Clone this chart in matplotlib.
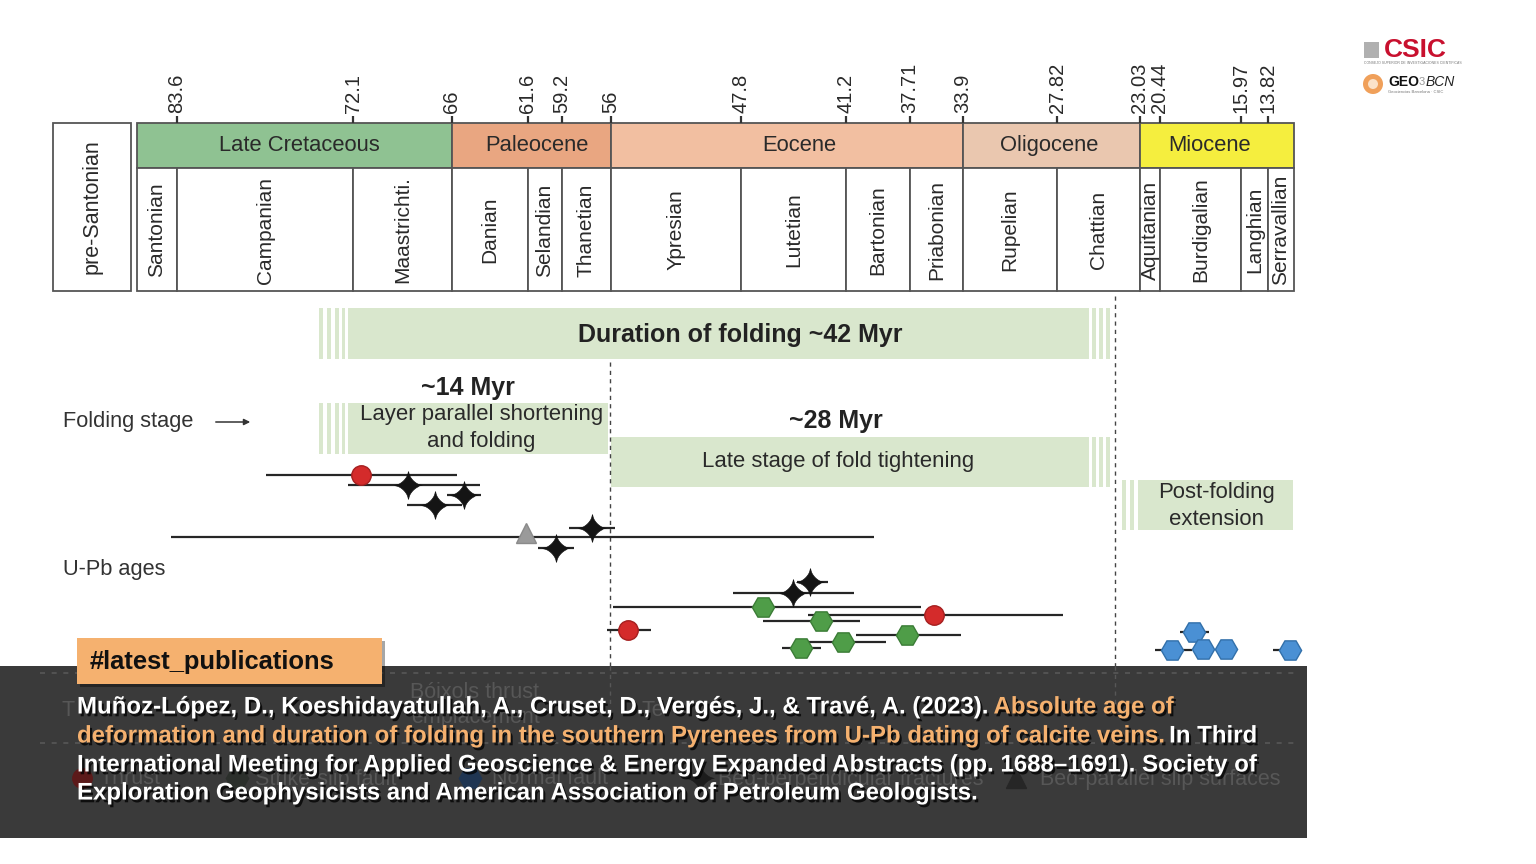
import numpy as np
import matplotlib
matplotlib.use('Agg')
import matplotlib.pyplot as plt
from matplotlib.patches import Rectangle, Circle
import matplotlib.patheffects as pe

plt.rcParams['font.family'] = ['Liberation Sans', 'DejaVu Sans']

# ---------------- data ----------------
stage_names = ['Santonian', 'Campanian', 'Maastrichti.', 'Danian', 'Selandian', 'Thanetian',
               'Ypresian', 'Lutetian', 'Bartonian', 'Priabonian', 'Rupelian', 'Chattian',
               'Aquitanian', 'Burdigalian', 'Langhian', 'Serravallian']
stage_bounds = [86.3, 83.6, 72.1, 66.0, 61.6, 59.2, 56.0, 47.8, 41.2, 37.71, 33.9, 27.82,
                23.03, 20.44, 15.97, 13.82, 11.63]
# drawn width of each stage on the (non-linear) time scale
stage_widths = [40, 176, 99, 76, 34, 49, 130, 105, 64, 53, 94, 83, 20, 81, 27, 26]

epoch_names = ['Late Cretaceous', 'Paleocene', 'Eocene', 'Oligocene', 'Miocene']
epoch_bounds = [86.3, 66.0, 56.0, 33.9, 23.03, 11.63]
epoch_label_ages = [75.6, 61.0, 44.15, 28.3, 17.7]
epoch_colors = ['#8fc292', '#e9a681', '#f2bfa1', '#eac7af', '#f5ee3e']

tick_ages = [83.6, 72.1, 66, 61.6, 59.2, 56, 47.8, 41.2, 37.71, 33.9, 27.82, 23.03, 20.44, 15.97, 13.82]
tick_labels = ['83.6', '72.1', '66', '61.6', '59.2', '56', '47.8', '41.2', '37.71', '33.9',
               '27.82', '23.03', '20.44', '15.97', '13.82']

# folding stages (ages, Ma)
duration_span = (72.4, 26.0)
lps_span = (72.4, 56.2)
late_span = (56.0, 26.0)
post_span = (23.15, 11.71)
stage_limits = [56.05, 24.5]

# U-Pb ages
upb_type = ['thrust', 'bedperp', 'bedperp', 'bedperp', 'bedpar', 'bedperp', 'bedperp',
            'bedperp', 'bedperp', 'strike', 'thrust', 'strike', 'thrust', 'strike', 'strike',
            'strike', 'normal', 'normal', 'normal', 'normal', 'normal']
upb_age = [71.6, 68.7, 65.3, 67.05, 61.7, 57.24, 59.62, 43.46, 44.53, 46.44, 35.98, 42.79,
           54.93, 37.89, 41.41, 44.03, 18.56, 19.78, 18.07, 16.8, 11.97]
upb_old = [77.8, 72.4, 66.3, 68.8, 84.0, 58.74, 60.9, 44.3, 48.32, 55.89, 43.59, 46.42,
           56.26, 40.65, 44.09, 45.24, 19.34, 21.09, 18.07, 16.8, 13.4]
upb_young = [65.7, 64.4, 64.3, 65.4, 39.7, 55.75, 58.42, 42.33, 40.76, 36.94, 27.47, 40.44,
             53.5, 34.07, 39.04, 42.79, 17.73, 18.69, 18.07, 16.8, 11.97]
upb_row = [475, 485, 495, 505, 537, 528, 548, 582, 593, 607, 615, 621, 630, 635, 642, 648,
           632, 650, 649, 649, 650]

legend_types = ['thrust', 'strike', 'normal', 'bedperp', 'bedpar']
legend_labels = ['Thrust', 'Strike-slip fault', 'Normal fault', 'Bed-perpendicular fractures',
                 'Bed-parallel slip surfaces']

# ---------------- non-linear time scale ----------------
_ages = np.array(stage_bounds, float)
_pos = np.concatenate([[137.0], 137.0 + np.cumsum(stage_widths)])
_slope = 15.8


def age_to_pos(a):
    a = np.asarray(a, float)
    out = np.interp(-a, -_ages, _pos)
    out = np.where(a > _ages[0], _pos[0] + (_ages[0] - a) * _slope, out)
    out = np.where(a < _ages[-1], _pos[-1] + (_ages[-1] - a) * _slope, out)
    return out


def pos_to_age(p):
    p = np.asarray(p, float)
    out = np.interp(p, _pos, _ages)
    out = np.where(p < _pos[0], _ages[0] - (p - _pos[0]) / _slope, out)
    out = np.where(p > _pos[-1], _ages[-1] - (p - _pos[-1]) / _slope, out)
    return out


# increasing forward function for matplotlib's FuncScale
def fwd(a):
    return -age_to_pos(a)


def inv(p):
    return pos_to_age(-np.asarray(p, float))


fig = plt.figure(figsize=(15.36, 8.64), dpi=100)
fig.patch.set_facecolor('white')
ax = fig.add_axes([0, 0, 1, 1])
ax.set_xscale('function', functions=(fwd, inv))
ax.set_xlim(float(pos_to_age(0)), float(pos_to_age(1536)))
ax.set_ylim(864, 0)
ax.axis('off')

ov = fig.add_axes([0, 0, 1, 1], zorder=5)
ov.set_xlim(0, 1536)
ov.set_ylim(864, 0)
ov.axis('off')
ov.patch.set_alpha(0)

TXT = '#2a2a2a'
EDGE = '#555555'


def mid_age(a0, a1):
    return float(pos_to_age((age_to_pos(a0) + age_to_pos(a1)) / 2))


# time scale boxes
for name, a0, a1, c, la in zip(epoch_names, epoch_bounds[:-1], epoch_bounds[1:], epoch_colors,
                               epoch_label_ages):
    ax.add_patch(Rectangle((a0, 123), a1 - a0, 45, fc=c, ec=EDGE, lw=1.3, zorder=2))
    ax.text(la, 145.5, name, ha='center', va='center', fontsize=15.8, color=TXT, zorder=3)

for name, a0, a1 in zip(stage_names, stage_bounds[:-1], stage_bounds[1:]):
    ax.add_patch(Rectangle((a0, 168), a1 - a0, 123, fc='white', ec=EDGE, lw=1.3, zorder=2))
    ax.text(mid_age(a0, a1), 230, name, ha='center', va='center', rotation=90, fontsize=15,
            color=TXT, zorder=3)

ax.vlines(tick_ages, 116, 123, color='#333333', lw=1.6, zorder=3)
for a, lab in zip(tick_ages, tick_labels):
    ax.text(a, 113, lab, rotation=90, ha='center', va='bottom', fontsize=14.5, color=TXT)

ov.add_patch(Rectangle((53, 123), 78, 168, fc='white', ec=EDGE, lw=1.3, zorder=2))
ov.text(92, 207, 'pre-Santonian', rotation=90, ha='center', va='center', fontsize=15.5, color=TXT)

# folding stage bars
BAR = '#d9e7cd'


def bar(span, y0, h):
    ax.add_patch(Rectangle((span[0], y0), span[1] - span[0], h, fc=BAR, ec='none', zorder=1))


def stripes(edge_age, offsets, y0, h):
    e = float(age_to_pos(edge_age))
    for o0, o1 in offsets:
        a0, a1 = float(pos_to_age(e + o0)), float(pos_to_age(e + o1))
        ax.add_patch(Rectangle((a0, y0), a1 - a0, h, fc=BAR, ec='none', zorder=1))


left_off = [(-29, -25), (-21, -17), (-13, -9), (-6, -3)]
right_off = [(3, 7), (10, 14), (17, 21)]
bar(duration_span, 308, 51)
stripes(duration_span[0], left_off, 308, 51)
stripes(duration_span[1], right_off, 308, 51)
bar(lps_span, 403, 51)
stripes(lps_span[0], left_off, 403, 51)
bar(late_span, 437, 50)
stripes(late_span[1], right_off, 437, 50)
bar(post_span, 480, 50)
stripes(post_span[0], [(-16, -12), (-8, -4)], 480, 50)

ax.vlines(stage_limits[0], 362, 666, color='#444444', lw=1.0, linestyles=(0, (3, 3)), zorder=2)
ax.vlines(stage_limits[1], 296, 666, color='#444444', lw=1.0, linestyles=(0, (3, 3)), zorder=2)

ax.text(47.85, 335, 'Duration of folding ~42 Myr', ha='center', va='center', fontsize=18,
        fontweight='bold', color='#222222', zorder=3)
ax.text(65.1, 388, '~14 Myr', ha='center', va='center', fontsize=18, fontweight='bold',
        color='#222222', zorder=3)
ax.text(64.3, 428, 'Layer parallel shortening\nand folding', ha='center', va='center',
        fontsize=15.9, color=TXT, linespacing=1.38, zorder=3)
ax.text(41.85, 421, '~28 Myr', ha='center', va='center', fontsize=18, fontweight='bold',
        color='#222222', zorder=3)
ax.text(41.7, 462, 'Late stage of fold tightening', ha='center', va='center', fontsize=15.9,
        color=TXT, zorder=3)
ax.text(17.3, 506, 'Post-folding\nextension', ha='center', va='center', fontsize=15.9,
        color=TXT, linespacing=1.38, zorder=3)

ov.text(63, 421, 'Folding stage', ha='left', va='center', fontsize=15.7, color='#333333')
ov.annotate('', xy=(253, 422), xytext=(213, 422),
            arrowprops=dict(arrowstyle='-|>', color='#333333', lw=1.1, mutation_scale=9))
ov.text(63, 569, 'U-Pb ages', ha='left', va='center', fontsize=15.7, color='#333333')

# markers: four-pointed concave star (superellipse)
_th = np.linspace(0, 2 * np.pi, 73)[:-1]
_p = 0.65
_rr = (np.abs(np.cos(_th)) ** _p + np.abs(np.sin(_th)) ** _p) ** (-1 / _p)
STAR = list(zip(_rr * np.cos(_th), _rr * np.sin(_th)))
mstyle = {
    'thrust': dict(marker='o', mfc='#d42b2b', mec='#a51f1f', ms=14, mew=1),
    'strike': dict(marker='H', mfc='#4f9d48', mec='#3b7c36', ms=16, mew=1),
    'normal': dict(marker='H', mfc='#4a90d4', mec='#3270aa', ms=16, mew=1),
    'bedperp': dict(marker=STAR, mfc='#141414', mec='#141414', ms=20, mew=0.5),
    'bedpar': dict(marker='^', mfc='#9a9a9a', mec='#8a8a8a', ms=15, mew=1),
}
moff = {'thrust': 0, 'strike': 0, 'normal': 0, 'bedperp': 0, 'bedpar': -4}

for t, a, o, yg, r in zip(upb_type, upb_age, upb_old, upb_young, upb_row):
    if o != yg:
        ax.hlines(r, o, yg, color='#262626', lw=1.6, zorder=4)
for t, a, r in zip(upb_type, upb_age, upb_row):
    ax.plot([a], [r + moff[t]], ls='none', zorder=5, **mstyle[t])

# ---------------- overlay (publication banner) ----------------
ov.add_patch(Rectangle((0, 666), 1307, 172, fc='#3a3a3a', ec='none', zorder=10))
GH = '#575757'
ov.hlines([673, 743], 40, 1300, color=GH, lw=1.2, linestyles=(0, (3, 4)), zorder=11)
ov.vlines([610, 1115], 666, 705, color=GH, lw=1.0, linestyles=(0, (3, 3)), zorder=11)
ov.text(475, 692, 'Bóixols thrust', ha='center', va='center', fontsize=15.5, color=GH, zorder=11)
ov.text(475, 718, 'emplacement', ha='center', va='center', fontsize=15.5, color=GH, zorder=11)
ov.text(62, 710, 'T', ha='left', va='center', fontsize=15.5, color=GH, zorder=11)
ov.text(641, 710, 'Te', ha='left', va='center', fontsize=15.5, color=GH, zorder=11)
leg_x = [82, 237, 470, 700, 1016]
leg_tx = [100, 255, 492, 718, 1040]
leg_col = {'thrust': '#5c1a1a', 'strike': '#2b2f2b', 'normal': '#1f3552', 'bedperp': '#1c1c1c',
           'bedpar': '#262626'}
for t, lab, xm, xt in zip(legend_types, legend_labels, leg_x, leg_tx):
    st = dict(mstyle[t])
    st['mfc'] = leg_col[t]
    st['mec'] = leg_col[t]
    ov.plot([xm], [778], ls='none', zorder=11, **st)
    ov.text(xt, 779, lab, ha='left', va='center', fontsize=15.5, color=GH, zorder=11)

# tag
ov.add_patch(Rectangle((80, 641), 305, 46, fc='black', alpha=0.35, ec='none', zorder=12))
ov.add_patch(Rectangle((77, 638), 305, 46, fc='#f5b16f', ec='none', zorder=13))
ov.text(90, 662, '#latest_publications', ha='left', va='center', fontsize=18.4,
        fontweight='bold', color='#111111', zorder=14)

ORANGE = '#f5b16f'
shadow = [pe.withSimplePatchShadow(offset=(1.5, -2), shadow_rgbFace='black', alpha=0.75)]
cfs = 17.3
line_y = [707, 736, 765, 793]
segments = [
    [('Muñoz-López, D., Koeshidayatullah, A., Cruset, D., Vergés, J., & Travé, A. (2023).', 'white'),
     ('Absolute age of', ORANGE)],
    [('deformation and duration of folding in the southern Pyrenees from U-Pb dating of calcite veins.', ORANGE),
     ('In Third', 'white')],
    [('International Meeting for Applied Geoscience & Energy Expanded Abstracts (pp. 1688–1691). Society of', 'white')],
    [('Exploration Geophysicists and American Association of Petroleum Geologists.', 'white')],
]
for y, segs in zip(line_y, segments):
    prev = None
    for s, c in segs:
        if prev is None:
            prev = ov.text(77, y, s, ha='left', va='center', fontsize=cfs, fontweight='bold',
                           color=c, zorder=15, path_effects=shadow)
        else:
            prev = ov.annotate(s, xy=(1, 0), xycoords=prev, xytext=(6, 0),
                               textcoords='offset pixels', ha='left', va='bottom',
                               fontsize=cfs, fontweight='bold', color=c, zorder=15,
                               path_effects=shadow)

# logos
ov.text(1384, 50, 'CSIC', ha='left', va='center', fontsize=19, fontweight='bold', color='#c8102e')
ov.add_patch(Rectangle((1364, 42), 15, 16, fc='#b0b0b0', ec='none'))
ov.text(1364, 63, 'CONSEJO SUPERIOR DE INVESTIGACIONES CIENTÍFICAS', ha='left', va='center',
        fontsize=2.5, color='#777777')
ov.add_patch(Circle((1373, 84), 10, fc='#f0a05a', ec='none'))
ov.add_patch(Circle((1373, 84), 5, fc='#fbe2c8', ec='none'))
ov.text(1388, 82, 'GEO', ha='left', va='center', fontsize=10, fontweight='bold', color='#111111')
ov.text(1419, 82, '3', ha='left', va='center', fontsize=8, color='#999999')
ov.text(1426, 82, 'BCN', ha='left', va='center', fontsize=10, fontstyle='italic', color='#222222')
ov.text(1388, 92, 'Geociencias Barcelona · CSIC', ha='left', va='center', fontsize=3,
        color='#777777')

fig.savefig('out.png', dpi=100, facecolor='white')
